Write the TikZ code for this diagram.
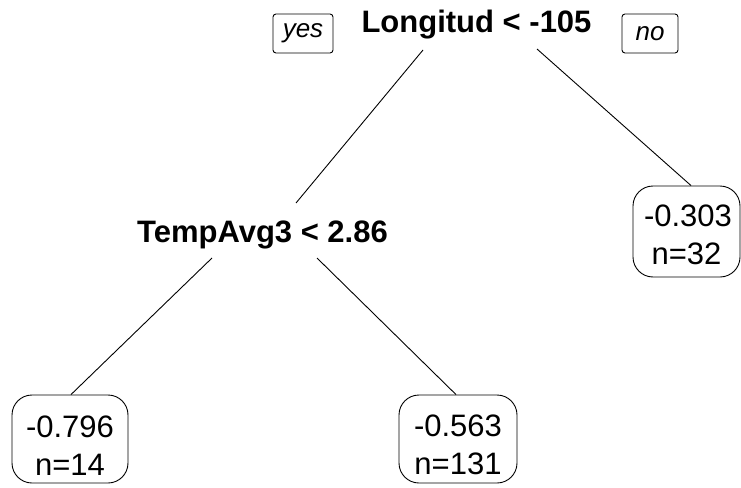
\documentclass[tikz,border=0pt]{standalone}
\usepackage{fontspec}
\setmainfont{Liberation Sans}
\usetikzlibrary{calc}
\newcommand{\topgap}[1]{\rule{0pt}{#1}}
\begin{document}
\begin{tikzpicture}[x=1pt,y=-1pt,
  split/.style={font=\fontsize{31}{34}\selectfont\bfseries, inner sep=0pt},
  leaf/.style={draw, line width=0.9pt, rounded corners=20pt, align=center,
    font=\fontsize{31}{38}\selectfont, inner sep=0pt},
  tag/.style={draw, line width=0.9pt, rounded corners=3pt, inner sep=0pt,
    font=\fontsize{26}{28}\selectfont\itshape},
  edge/.style={line width=0.9pt}]
  \useasboundingbox (0,0) rectangle (741,487);

  % split labels
  \node[split, anchor=base] (root) at (476.5,33) {Longitud < -105};
  \node[split, anchor=base] (tmp) at (262.5,242) {TempAvg3 < 2.86};

  % branch direction tags
  \node[tag, minimum width=60pt, minimum height=39pt] (yes) at (303,33.5) {yes};
  \node[tag, minimum width=56pt, minimum height=39pt] (no) at (650,33.5) {no};

  % leaves
  \node[leaf, minimum width=116pt, minimum height=88pt] (l1) at (70,439)
    {\topgap{34pt}-0.796\\n=14};
  \node[leaf, minimum width=118pt, minimum height=88pt] (l2) at (458,439)
    {\topgap{34pt}-0.563\\n=131};
  \node[leaf, minimum width=107pt, minimum height=91pt, text width=107pt] (l3) at (686.5,231.5)
    {\topgap{29pt}\hspace*{3pt}-0.303\\n=32};

  % connectors
  \draw[edge] ($(root.base)+(-53.5,17)$) -- ($(tmp.base)+(33.5,-39)$);
  \draw[edge] ($(root.base)+(60.5,16)$) -- ([xshift=4.5pt]l3.north);
  \draw[edge] ($(tmp.base)+(-50.5,16)$) -- ([xshift=1pt]l1.north);
  \draw[edge] ($(tmp.base)+(54.5,16)$) -- ([xshift=-2pt]l2.north);
\end{tikzpicture}
\end{document}
